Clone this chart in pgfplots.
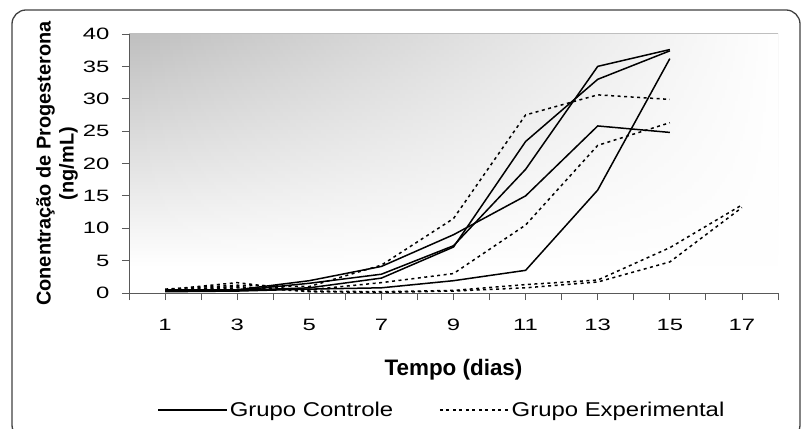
\documentclass[border=0pt]{standalone}
\usepackage{pgfplots}
\pgfplotsset{compat=1.18}
\usepackage{fontspec}
\setmainfont{Liberation Sans}
\newfontfamily\tickfont{Liberation Sans}[FakeStretch=1.45]
\newfontfamily\legfont{Liberation Sans}[FakeStretch=1.2]
\usetikzlibrary{fadings}

\definecolor{bgtop}{gray}{0.75}
\definecolor{axgray}{gray}{0.35}
\pgfdeclareverticalshading{bgv}{100bp}{color(0bp)=(white); color(30bp)=(white); color(75bp)=(bgtop); color(100bp)=(bgtop)}
\tikzfading[name=fadeh, left color=transparent!100, right color=transparent!0]

\begin{document}
\begin{tikzpicture}
\useasboundingbox (0bp,0bp) rectangle (807bp,429bp);
% outer frame
\draw[black!75, line width=1.3bp, rounded corners=14bp] (12bp,-10bp) rectangle (800bp,419bp);
% plot area gradient
\shade[shading=bgv] (129bp,136bp) rectangle (778bp,395bp);
\fill[white, path fading=fadeh] (129bp,136bp) rectangle (778bp,395bp);

\begin{axis}[
    at={(129bp,136bp)}, anchor=south west,
    scale only axis,
    width=649bp, height=259bp,
    xmin=0, xmax=18,
    ymin=0, ymax=40,
    axis x line*=bottom, axis y line*=left,
    axis line style={axgray, line width=0.8bp},
    xtick={1,3,...,17},
    minor xtick={0,2,...,18},
    ytick={0,5,...,40},
    tick align=outside,
    major tick length=7bp, minor tick length=7bp,
    tick style={axgray, line width=0.8bp},
    /pgf/number format/assume math mode=true,
    ticklabel style={font=\tickfont\fontsize{16.5}{16.5}\selectfont},
    xticklabel style={yshift=-16bp},
    yticklabel style={xshift=-9bp},
    xlabel={Tempo (dias)},
    xlabel style={font=\bfseries\fontsize{22.5}{22.5}\selectfont, at={(axis description cs:0.5,-0.297)}, anchor=center},
    ylabel={Conentração de Progesterona\\(ng/mL)},
    ylabel style={font=\bfseries\fontsize{20}{23}\selectfont, align=center, at={(axis description cs:-0.111,0.5)}, anchor=center},
    legend style={at={(axis description cs:0.482,-0.452)}, anchor=center, draw=none, fill=none,
        legend columns=2, font=\legfont\fontsize{20}{20}\selectfont,
        /tikz/every even column/.append style={column sep=44bp}},
    legend image code/.code={\draw[#1] (0bp,0bp) -- (69bp,0bp);},
    every axis plot/.append style={line width=1.5bp, black},
    clip=false,
]
% Grupo Controle
\addplot[solid] coordinates {(1,0.4) (3,0.4) (5,1.5) (7,2.9) (9,7.3) (11,19.1) (13,35.0) (15,37.6)};
\addlegendentry{Grupo Controle}
% Grupo Experimental
\addplot[dash pattern=on 3bp off 3.5bp] coordinates {(1,0.6) (3,1.2) (5,1.0) (7,4.3) (9,11.5) (11,27.5) (13,30.6) (15,29.9)};
\addlegendentry{Grupo Experimental}

\addplot[solid, forget plot] coordinates {(1,0.3) (3,0.4) (5,0.8) (7,2.3) (9,7.1) (11,23.4) (13,33.0) (15,37.4)};
\addplot[solid, forget plot] coordinates {(1,0.5) (3,0.5) (5,1.9) (7,4.1) (9,9.0) (11,15.0) (13,25.8) (15,24.8)};
\addplot[solid, forget plot] coordinates {(1,0.2) (3,0.3) (5,0.6) (7,0.8) (9,1.9) (11,3.5) (13,15.9) (15,36.2)};

\addplot[dash pattern=on 3bp off 3.5bp, forget plot] coordinates {(1,0.3) (3,0.8) (5,0.5) (7,1.6) (9,3.0) (11,10.5) (13,22.8) (15,26.3)};
\addplot[dash pattern=on 3bp off 3.5bp, forget plot] coordinates {(1,0.5) (3,1.6) (5,0.3) (7,0.2) (9,0.4) (11,1.3) (13,2.0) (15,7.0) (17,13.6)};
\addplot[dash pattern=on 3bp off 3.5bp, forget plot] coordinates {(1,0.4) (3,1.0) (5,0.2) (7,0.1) (9,0.3) (11,0.8) (13,1.7) (15,4.8) (17,13.2)};
\end{axis}
\end{tikzpicture}
\end{document}
